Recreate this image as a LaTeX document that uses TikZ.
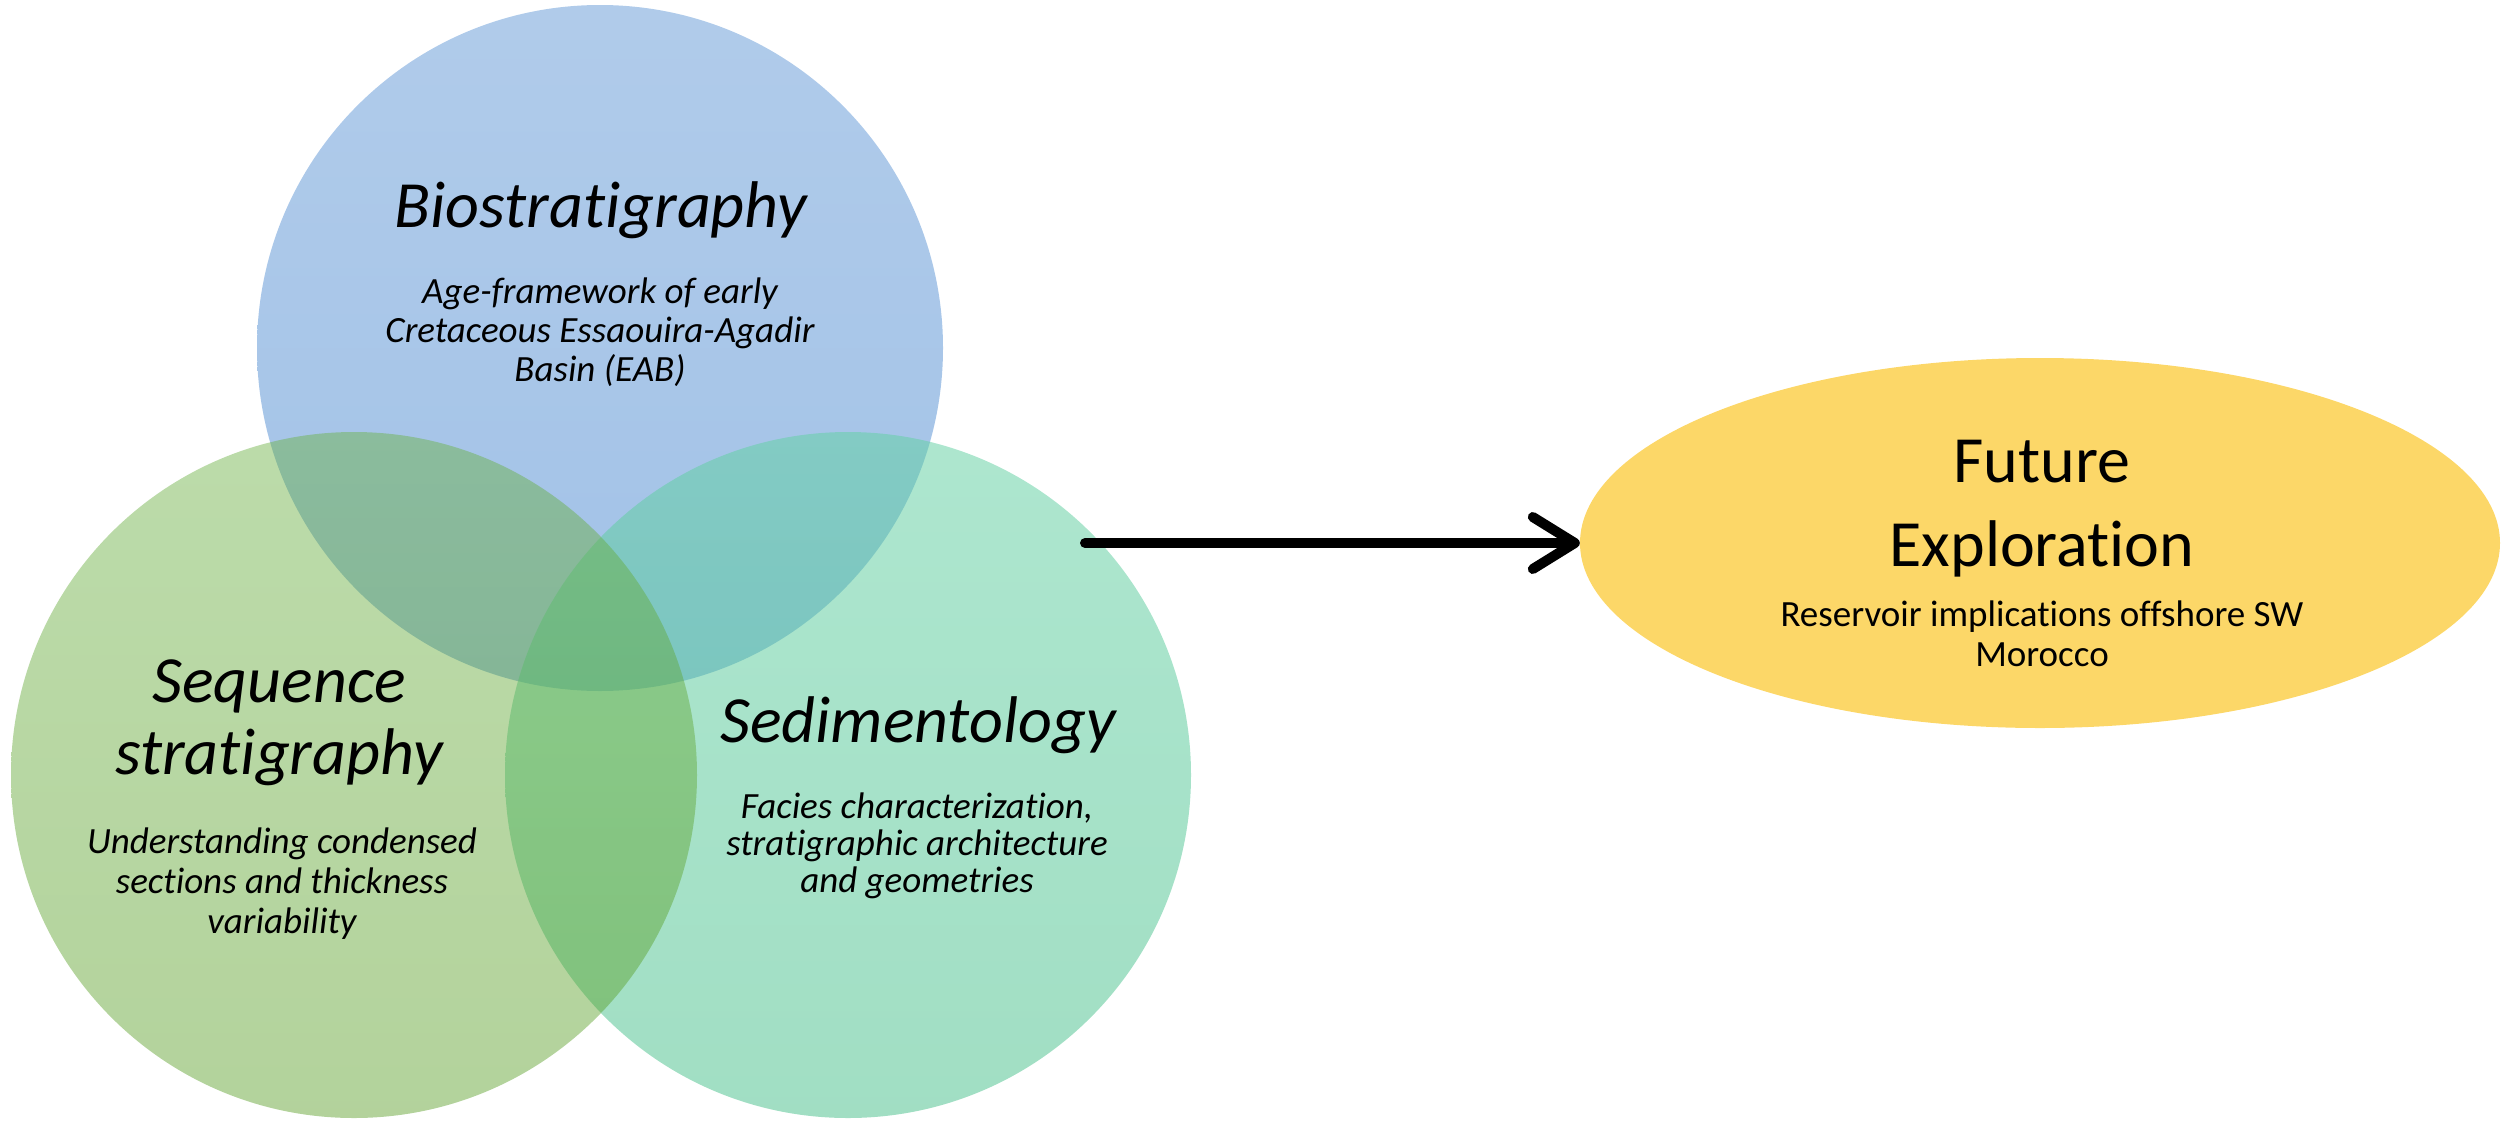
\documentclass[tikz,border=0pt]{standalone}
\usepackage{fontspec}
\setmainfont{Carlito}[Ligatures=NoCommon]
\usetikzlibrary{arrows.meta,shapes.geometric}
\definecolor{biotop}{RGB}{98,152,214}
\definecolor{biobot}{RGB}{68,133,207}
\definecolor{seqtop}{RGB}{106,176,66}
\definecolor{seqbot}{RGB}{86,156,34}
\definecolor{sedtop}{RGB}{98,208,163}
\definecolor{sedbot}{RGB}{74,192,140}
\definecolor{futfill}{RGB}{252,215,104}
\tikzset{
  venn/.style={circle, minimum size=686pt, inner sep=0pt, draw=none, shading angle=0},
  ttl/.style={font=\fontsize{66}{72}\selectfont\itshape, align=center, inner sep=0pt},
  sub/.style={font=\fontsize{37}{39}\selectfont\itshape, align=center, inner sep=0pt},
  conn/.style={line width=10pt, line cap=round, -{Straight Barb[length=42pt,width=52pt,round]}}
}
\begin{document}
\begin{tikzpicture}[x=1pt,y=-1pt]
\useasboundingbox (0,0) rectangle (2501,1120);
% circles (Bio bottom, Sed middle, Seq top)
\node[venn, top color=biotop, bottom color=biobot, fill opacity=0.5] (bio) at (600,348) {};
\node[venn, top color=sedtop, bottom color=sedbot, fill opacity=0.52] (sed) at (848,775) {};
\node[venn, top color=seqtop, bottom color=seqbot, fill opacity=0.45] (seq) at (354,775) {};
% texts
\node[ttl] (biot) at (601,210) {Biostratigraphy};
\node[sub] (bios) at (600,332) {Age-framework of early\\Cretaceous Essaouira-Agadir\\Basin (EAB)};
\node[ttl] (seqt) at (279,723) {Sequence\\stratigraphy};
\node[sub, font=\fontsize{37}{40}\selectfont\itshape] (seqs) at (282,884) {Understanding condensed\\sections and thickness\\variability};
\node[ttl] (sedt) at (918,725) {Sedimentology};
\node[sub, font=\fontsize{37}{37}\selectfont\itshape] (seds) at (917,846) {Facies characterization,\\stratigraphic architecture\\and geometries};
% future exploration
\node[ellipse, minimum width=920pt, minimum height=370pt, inner sep=0pt, fill=futfill] (fut) at (2040,543) {};
\node[font=\fontsize{66}{84}\selectfont, align=center, inner sep=0pt] (futt) at (2042,509) {Future\\Exploration};
\node[font=\fontsize{37}{40}\selectfont, align=center, inner sep=0pt] (futs) at (2042,634) {Reservoir implications offshore SW\\Morocco};
% arrow
\coordinate (astart) at (1085,543);
\draw[conn] (astart) -- (astart -| fut.west);
\end{tikzpicture}
\end{document}
